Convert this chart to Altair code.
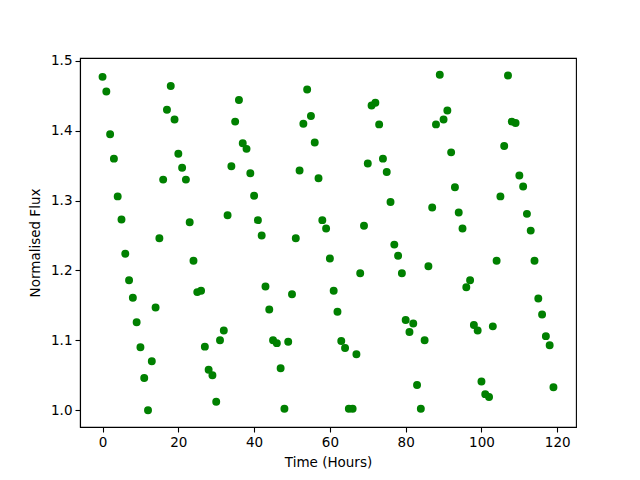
import altair as alt
import pandas as pd

hours = [
    0, 1, 2, 3, 4, 5, 6, 7, 8, 9, 10, 11, 12, 13, 14, 15, 16, 17, 18, 19,
    20, 21, 22, 23, 24, 25, 26, 27, 28, 29, 30, 31, 32, 33, 34, 35, 36, 37, 38, 39,
    40, 41, 42, 43, 44, 45, 46, 47, 48, 49, 50, 51, 52, 53, 54, 55, 56, 57, 58, 59,
    60, 61, 62, 63, 64, 65, 66, 67, 68, 69, 70, 71, 72, 73, 74, 75, 76, 77, 78, 79,
    80, 81, 82, 83, 84, 85, 86, 87, 88, 89, 90, 91, 92, 93, 94, 95, 96, 97, 98, 99,
    100, 101, 102, 103, 104, 105, 106, 107, 108, 109, 110, 111, 112, 113, 114, 115, 116, 117, 118, 119,
]

flux = [
    1.477, 1.456, 1.395, 1.360, 1.306, 1.273, 1.224, 1.186, 1.161, 1.126,
    1.090, 1.046, 1.000, 1.070, 1.147, 1.246, 1.330, 1.430, 1.464, 1.416,
    1.367, 1.347, 1.330, 1.269, 1.214, 1.169, 1.171, 1.091, 1.058, 1.050,
    1.012, 1.100, 1.114, 1.279, 1.349, 1.413, 1.444, 1.382, 1.374, 1.339,
    1.307, 1.272, 1.250, 1.177, 1.144, 1.100, 1.096, 1.060, 1.002, 1.098,
    1.166, 1.246, 1.343, 1.410, 1.459, 1.421, 1.383, 1.332, 1.272, 1.260,
    1.217, 1.171, 1.141, 1.099, 1.089, 1.002, 1.002, 1.080, 1.196, 1.264,
    1.353, 1.436, 1.440, 1.409, 1.360, 1.341, 1.298, 1.237, 1.221, 1.196,
    1.129, 1.112, 1.124, 1.036, 1.002, 1.100, 1.206, 1.290, 1.409, 1.480,
    1.416, 1.429, 1.369, 1.319, 1.283, 1.260, 1.176, 1.186, 1.122, 1.114,
    1.041, 1.023, 1.019, 1.120, 1.214, 1.306, 1.378, 1.479, 1.413, 1.411,
    1.336, 1.320, 1.281, 1.257, 1.214, 1.160, 1.137, 1.106, 1.093, 1.033,
]

x_ticks = [0, 20, 40, 60, 80, 100, 120]
y_ticks = [1.0, 1.1, 1.2, 1.3, 1.4, 1.5]

df = pd.DataFrame({"Time": hours, "Flux": flux})

font = "DejaVu Sans"

chart = (
    alt.Chart(df)
    .mark_circle(color="#008000", opacity=1, size=63)
    .encode(
        x=alt.X(
            "Time:Q",
            scale=alt.Scale(domain=[-5.95, 124.95], nice=False, zero=False),
            axis=alt.Axis(
                title="Time (Hours)",
                values=x_ticks,
                format="d",
                grid=False,
                tickSize=5,
                labelPadding=3,
                titlePadding=7,
            ),
        ),
        y=alt.Y(
            "Flux:Q",
            scale=alt.Scale(domain=[0.976, 1.504], nice=False, zero=False),
            axis=alt.Axis(
                title="Normalised Flux",
                values=y_ticks,
                format=".1f",
                grid=False,
                tickSize=5,
                labelPadding=3,
                titlePadding=8,
            ),
        ),
    )
    .properties(
        width=496,
        height=369,
        autosize=alt.AutoSizeParams(type="none"),
        padding={"left": 72, "top": 50, "right": 56, "bottom": 45},
    )
    .configure_view(stroke="black", strokeWidth=1.1)
    .configure_axis(
        domainColor="black",
        domainWidth=1.1,
        tickColor="black",
        tickWidth=1.1,
        labelColor="black",
        labelFont=font,
        labelFontSize=13.5,
        titleFont=font,
        titleFontSize=13.5,
        titleFontWeight="normal",
        titleColor="black",
    )
)

chart.save("out.html", embed_options={"renderer": "svg", "actions": False})
